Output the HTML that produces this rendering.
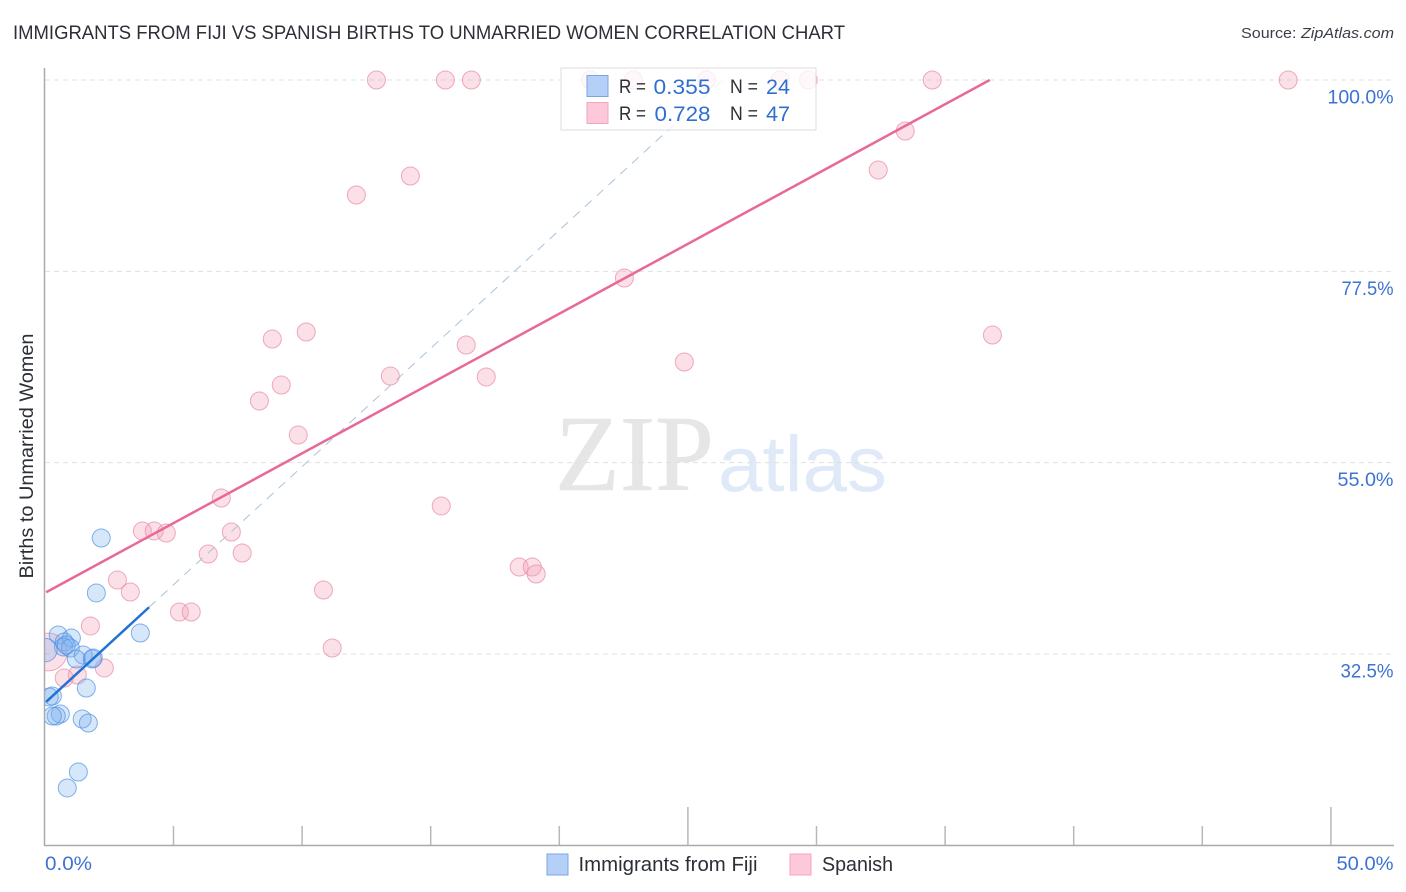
<!DOCTYPE html>
<html lang="en">
<head>
<meta charset="utf-8">
<title>Immigrants from Fiji vs Spanish Births to Unmarried Women Correlation Chart</title>
<style>
html,body{margin:0;padding:0;background:#fff;}
svg{display:block;font-family:"Liberation Sans",sans-serif;}
</style>
</head>
<body>
<svg id="chart" xmlns="http://www.w3.org/2000/svg" width="1406" height="892" viewBox="0 0 1406 892">
  <defs><clipPath id="plot-clip"><rect x="45" y="60" width="1349" height="786"/></clipPath></defs>
  <text x="13" y="39" font-size="19" fill="#2b2f36" textLength="832" lengthAdjust="spacingAndGlyphs">IMMIGRANTS FROM FIJI VS SPANISH BIRTHS TO UNMARRIED WOMEN CORRELATION CHART</text>
  <text x="1241" y="38" font-size="15" fill="#3a3f47" textLength="153" lengthAdjust="spacingAndGlyphs">Source: <tspan font-style="italic">ZipAtlas.com</tspan></text>
  <g>
    <text x="555" y="490" font-family="'Liberation Serif',serif" font-size="108" fill="#e6e6e6" stroke="#e6e6e6" stroke-width="0.6" textLength="159" lengthAdjust="spacingAndGlyphs">ZIP</text>
    <text x="718" y="491" font-size="79" fill="#dfe9f8" textLength="169" lengthAdjust="spacingAndGlyphs">atlas</text>
  </g>
  <g id="grid"></g>
  <g id="axes"></g>
  <g id="marks" clip-path="url(#plot-clip)"></g>
  <g id="lines"></g>
  <g>
    <rect x="561" y="68" width="255" height="62" fill="#fff" fill-opacity="0.78" stroke="#dcdcdc" stroke-width="1"/>
    <rect x="587" y="75.5" width="21" height="21" fill="#b5d0f6" stroke="#77a6e2" stroke-width="1"/>
    <rect x="587" y="102.5" width="21" height="21" fill="#fdc9da" stroke="#f3a5bf" stroke-width="1"/>
    <text x="619" y="93" font-size="19.5" fill="#2b2f36" textLength="27" lengthAdjust="spacingAndGlyphs">R =</text>
    <text x="653.5" y="94" font-size="21.5" fill="#2f6fd0" textLength="57" lengthAdjust="spacingAndGlyphs">0.355</text>
    <text x="730" y="93" font-size="19.5" fill="#2b2f36" textLength="28" lengthAdjust="spacingAndGlyphs">N =</text>
    <text x="766" y="94" font-size="21.5" fill="#2f6fd0" textLength="24" lengthAdjust="spacingAndGlyphs">24</text>
    <text x="619" y="120" font-size="19.5" fill="#2b2f36" textLength="27" lengthAdjust="spacingAndGlyphs">R =</text>
    <text x="654.5" y="121" font-size="21.5" fill="#2f6fd0" textLength="56" lengthAdjust="spacingAndGlyphs">0.728</text>
    <text x="730" y="120" font-size="19.5" fill="#2b2f36" textLength="28" lengthAdjust="spacingAndGlyphs">N =</text>
    <text x="766" y="121" font-size="21.5" fill="#2f6fd0" textLength="24" lengthAdjust="spacingAndGlyphs">47</text>
  </g>
  <text transform="translate(33,456) rotate(-90)" text-anchor="middle" font-size="19" fill="#2b2f36" textLength="245" lengthAdjust="spacingAndGlyphs">Births to Unmarried Women</text>
  <g>
    <rect x="547" y="854" width="21" height="21" fill="#b5d0f6" stroke="#77a6e2" stroke-width="1"/>
    <text x="578.5" y="871" font-size="20" fill="#2b2f36" textLength="179" lengthAdjust="spacingAndGlyphs">Immigrants from Fiji</text>
    <rect x="790" y="854" width="21" height="21" fill="#fdc9da" stroke="#f3a5bf" stroke-width="1"/>
    <text x="822" y="871" font-size="20" fill="#2b2f36" textLength="71" lengthAdjust="spacingAndGlyphs">Spanish</text>
  </g>
</svg>
<script>
const yTicks = [100, 77.5, 55, 32.5];
const yTickLabels = ["100.0%", "77.5%", "55.0%", "32.5%"];
const xTicks = [0, 5, 10, 15, 20, 25, 30, 35, 40, 45, 50];
const xMajorTicks = [25, 50];
const xEdgeLabels = ["0.0%", "50.0%"];

const fijiX = [2.19,2.00,3.71,0.52,1.03,0.75,0.72,0.99,1.49,1.22,1.84,1.88,1.61,0.29,0.17,0.60,0.44,0.29,1.45,1.69,1.30,0.87,0.02,0.83];
const fijiY = [46.14,39.68,34.97,34.74,34.38,33.91,33.33,33.21,32.38,31.91,31.91,32.03,28.50,27.56,27.45,25.45,25.21,25.21,24.86,24.39,18.63,16.75,32.97,33.56];
const fijiWeight = [1,1,1,1,1,1,1,1,1,1,1,1,1,1,1,1,1,1,1,1,1,1,1.3,1];

const spanishX = [12.89,15.57,16.58,21.21,22.88,25.72,28.59,29.68,34.50,48.34,33.45,32.40,14.21,12.11,22.53,10.16,8.84,36.84,16.38,24.86,13.43,17.16,9.19,8.34,9.85,6.86,15.41,3.79,4.25,4.72,7.25,6.35,7.67,18.44,18.95,19.10,2.82,10.83,3.32,5.23,5.69,1.77,11.17,0.13,2.31,1.26,0.75];
const spanishY = [100,100,100,100,100,100,100,100,100,100,94.00,89.42,88.71,86.48,76.72,70.37,69.54,70.01,68.84,66.84,65.19,65.08,64.13,62.25,58.25,50.85,49.91,46.97,46.97,46.73,46.85,44.26,44.38,42.73,42.73,41.91,41.20,40.03,39.79,37.44,37.44,35.80,33.21,32.74,30.86,30.03,29.68];
const spanishWeight = [1,1,1,1,1,1,1,1,1,1,1,1,1,1,1,1,1,1,1,1,1,1,1,1,1,1,1,1,1,1,1,1,1,1,1,1,1,1,1,1,1,1,1,2.1,1,1,1];

const fijiTrend = [26.74, 2.78];
const fijiSolidEnd = [4.05];
const spanishTrend = [39.68, 1.642];

const NS = "http://www.w3.org/2000/svg";
const xScale = function (v) { return 44.9 + v * 25.72; };
const yScale = function (v) { return 80 + (100 - v) * 8.504; };
function labelWidth(s) {
  const w = {"100.0%": 66, "77.5%": 52, "55.0%": 56, "32.5%": 53, "0.0%": 47, "50.0%": 57};
  return w[s] || 56;
}
function make(parent, tag, attrs, text) {
  const el = document.createElementNS(NS, tag);
  Object.keys(attrs).forEach(function (k) { el.setAttribute(k, attrs[k]); });
  if (text !== undefined) el.textContent = text;
  parent.appendChild(el);
  return el;
}
const gridG = document.getElementById("grid");
const axesG = document.getElementById("axes");
const marksG = document.getElementById("marks");
const linesG = document.getElementById("lines");

yTicks.forEach(function (v, i) {
  const y = yScale(v);
  const g = make(gridG, "line", {x1: 45, x2: 1394, y1: y, y2: y, stroke: "#e0e0e0", "stroke-width": 1, "stroke-dasharray": "5 4"});
  
  
  const t = make(axesG, "text", {x: 1393.5, y: y + 23.5, "text-anchor": "end", "font-size": 19.5, fill: "#3b72d4", textLength: labelWidth(yTickLabels[i]), lengthAdjust: "spacingAndGlyphs"}, yTickLabels[i]);
  
  
});

const yAxis = make(axesG, "line", {x1: 44.5, x2: 44.5, y1: 68, y2: 846, stroke: "#aaaaaa", "stroke-width": 1.5});


const xAxis = make(axesG, "line", {x1: 44, x2: 1394, y1: 845.5, y2: 845.5, stroke: "#aaaaaa", "stroke-width": 1.5});



xTicks.slice(1).forEach(function (v) {
  const x = xScale(v);
  const top = xMajorTicks.indexOf(v) >= 0 ? 807 : 826;
  const tick = make(axesG, "line", {x1: x, x2: x, y1: top, y2: 845, stroke: "#b8b8b8", "stroke-width": 1.5});
  
  
});

const xLabelLeft = make(axesG, "text", {x: 45, y: 870, "font-size": 19.5, fill: "#3b72d4", textLength: labelWidth(xEdgeLabels[0]), lengthAdjust: "spacingAndGlyphs"}, xEdgeLabels[0]);


const xLabelRight = make(axesG, "text", {x: 1393.5, y: 870, "text-anchor": "end", "font-size": 19.5, fill: "#3b72d4", textLength: labelWidth(xEdgeLabels[1]), lengthAdjust: "spacingAndGlyphs"}, xEdgeLabels[1]);



spanishX.forEach(function (v, i) {
  const c = make(marksG, "circle", {cx: xScale(v), cy: yScale(spanishY[i]), r: 9 * spanishWeight[i], fill: "#f4a0b8", "fill-opacity": 0.33, stroke: "#e98aa8", "stroke-opacity": 0.72, "stroke-width": 1});
  
  
});
fijiX.forEach(function (v, i) {
  const c = make(marksG, "circle", {cx: xScale(v), cy: yScale(fijiY[i]), r: 9 * fijiWeight[i], fill: "#7aaeee", "fill-opacity": 0.3, stroke: "#4a8ee0", "stroke-opacity": 0.68, "stroke-width": 1});
  
  
});

function trendY(t, x) { return t[0] + t[1] * x; }
const fijiEndX = (100 - fijiTrend[0]) / fijiTrend[1];
const fijiDash = make(linesG, "line", {x1: xScale(fijiSolidEnd[0]), y1: yScale(trendY(fijiTrend, fijiSolidEnd[0])), x2: xScale(fijiEndX), y2: yScale(100), stroke: "#a9c3dc", "stroke-width": 1, "stroke-dasharray": "9 7"});


const fijiLine = make(linesG, "line", {x1: xScale(0.05), y1: yScale(trendY(fijiTrend, 0.05)), x2: xScale(fijiSolidEnd[0]), y2: yScale(trendY(fijiTrend, fijiSolidEnd[0])), stroke: "#2272d6", "stroke-width": 2.5});


const spanishEndX = (100 - spanishTrend[0]) / spanishTrend[1];
const spanishLine = make(linesG, "line", {x1: xScale(0.05), y1: yScale(trendY(spanishTrend, 0.05)), x2: xScale(spanishEndX), y2: yScale(100), stroke: "#e8689a", "stroke-width": 2.5});


</script>
</body>
</html>
